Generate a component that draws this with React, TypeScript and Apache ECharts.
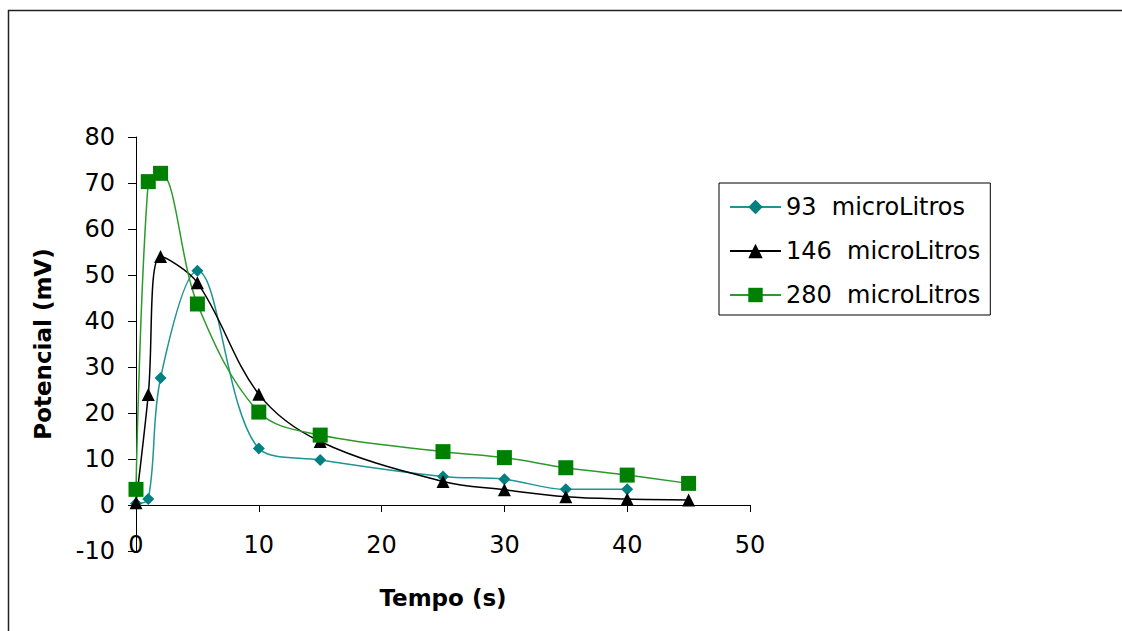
import React, { useEffect, useRef } from "react";
import * as echarts from "echarts";

const times93 = [0, 1, 2, 5, 10, 15, 25, 30, 35, 40];
const values93 = [0.3, 1.3, 27.6, 50.9, 12.3, 9.8, 6.2, 5.6, 3.4, 3.4];

const times146 = [0, 1, 2, 5, 10, 15, 25, 30, 35, 40, 45];
const values146 = [0.5, 24, 54, 48.3, 24.1, 13.8, 5.1, 3.3, 1.8, 1.3, 1.1];

const times280 = [0, 1, 2, 5, 10, 15, 25, 30, 35, 40, 45];
const values280 = [3.4, 70.3, 72.1, 43.7, 20.2, 15.2, 11.6, 10.3, 8.1, 6.5, 4.7];

const seriesNames = ["93  microLitros", "146  microLitros", "280  microLitros"];
const xTicks = { min: 0, max: 50, interval: 10 };
const yTicks = { min: -10, max: 80, interval: 10 };

const FONT = "DejaVu Sans";

function pairs(xs: number[], ys: number[]) {
  return xs.map((x, i) => [x, ys[i]]);
}

export default function App() {
  const ref = useRef<HTMLDivElement>(null);
  useEffect(() => {
    if (!ref.current) return;
    const chart = echarts.init(ref.current, null, { renderer: "svg" });
    chart.setOption({
      animation: false,
      backgroundColor: "#ffffff",
      textStyle: { fontFamily: FONT },
      grid: {
        left: 136,
        right: 372,
        top: 137,
        bottom: 80,
        containLabel: false,
        outerBoundsMode: "none",
      },
      graphic: [
        {
          type: "rect",
          shape: { x: 8.5, y: 10.5, width: 1200, height: 700 },
          style: { fill: "none", stroke: "#222", lineWidth: 1.5 },
          silent: true,
        },
      ],
      legend: {
        orient: "vertical",
        left: 719,
        top: 183,
        padding: [12, 10, 8, 10],
        itemWidth: 51,
        itemHeight: 18,
        itemGap: 20,
        borderColor: "#000",
        borderWidth: 1,
        backgroundColor: "#fff",
        textStyle: { fontFamily: FONT, fontSize: 24, color: "#000", lineHeight: 24 },
        data: seriesNames,
      },
      xAxis: {
        type: "value",
        min: xTicks.min,
        max: xTicks.max,
        interval: xTicks.interval,
        name: "Tempo (s)",
        nameLocation: "middle",
        nameGap: 35,
        nameTextStyle: { fontFamily: FONT, fontSize: 23, fontWeight: "bold", color: "#000" },
        axisLine: { onZero: true, lineStyle: { color: "#000", width: 1 } },
        axisTick: { show: true, length: 7, lineStyle: { color: "#000" } },
        axisLabel: { margin: -18, fontFamily: FONT, fontSize: 24, color: "#000" },
        splitLine: { show: false },
      },
      yAxis: {
        type: "value",
        min: yTicks.min,
        max: yTicks.max,
        interval: yTicks.interval,
        name: "Potencial (mV)",
        nameLocation: "middle",
        nameGap: 82,
        nameTextStyle: { fontFamily: FONT, fontSize: 23, fontWeight: "bold", color: "#000" },
        axisLine: { show: true, onZero: false, lineStyle: { color: "#000", width: 1 } },
        axisTick: { show: true, length: 8, lineStyle: { color: "#000" } },
        axisLabel: { margin: 21, fontFamily: FONT, fontSize: 24, color: "#000" },
        splitLine: { show: false },
      },
      series: [
        {
          name: seriesNames[0],
          type: "line",
          data: pairs(times93, values93),
          smooth: 0.35,
          symbol: "diamond",
          symbolSize: 12,
          itemStyle: { color: "#008080" },
          lineStyle: { color: "#1f9494", width: 1.5 },
        },
        {
          name: seriesNames[1],
          type: "line",
          data: pairs(times146, values146),
          smooth: 0.35,
          symbol: "triangle",
          symbolSize: 13,
          itemStyle: { color: "#000000" },
          lineStyle: { color: "#000000", width: 1.5 },
        },
        {
          name: seriesNames[2],
          type: "line",
          data: pairs(times280, values280),
          smooth: 0.35,
          symbol: "rect",
          symbolSize: 15,
          itemStyle: { color: "#008000" },
          lineStyle: { color: "#2a9a2a", width: 1.5 },
        },
      ],
    });
    return () => chart.dispose();
  }, []);
  return (
    <div
      ref={ref}
      style={{ position: "fixed", left: 0, top: 0, width: 1122, height: 631, background: "#fff" }}
    />
  );
}
